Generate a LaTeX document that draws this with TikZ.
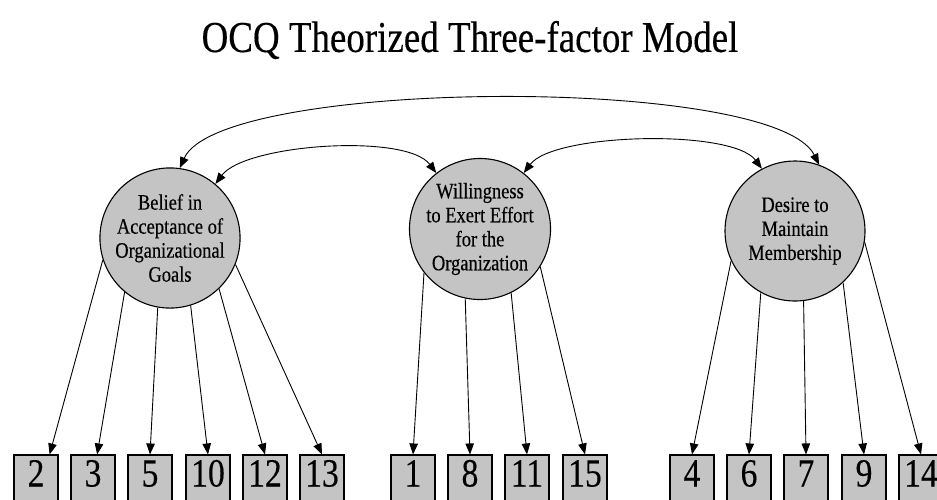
\documentclass[tikz,border=0pt]{standalone}
\usepackage{fontspec}
\setmainfont{Liberation Serif}[FakeStretch=0.84, FakeBold=0.3]
\usetikzlibrary{arrows.meta}

\tikzset{
  factor/.style={circle, draw, line width=1.1pt, fill=black!23, minimum size=140pt, inner sep=0pt, align=center, font=\fontsize{22}{24}\selectfont},
  item/.style={rectangle, draw, line width=1.1pt, fill=black!23, minimum width=44pt, minimum height=46pt, inner sep=0pt, text height=27pt, text depth=10pt, font=\fontsize{40}{40}\selectfont},
  load/.style={-{Triangle[length=11pt,width=8.5pt]}, line width=0.9pt},
  corr/.style={{Triangle[length=11pt,width=8.5pt]}-{Triangle[length=11pt,width=8.5pt]}, line width=0.9pt}
}

\begin{document}
\begin{tikzpicture}[x=1pt,y=-1pt]
    \useasboundingbox (0,0) rectangle (937,499);
    \clip (0,0) rectangle (937,499);

    % title
    \node[font=\fontsize{44}{46}\selectfont] (title) at (470,40) {OCQ Theorized Three-factor Model};

    % factors
    \node[factor] (goals) at (170,238) {Belief in\\Acceptance of\\Organizational\\Goals};
    \node[factor, minimum size=136pt] (effort) at (480,229) {Willingness\\to Exert Effort\\for the\\Organization};
    \node[factor] (member) at (795,231) {Desire to\\Maintain\\Membership};

    % items
    \foreach \n/\x in {2/36,3/93,5/150,10/208,12/265,13/322,1/413,8/470,11/527,15/585,4/692,6/749,7/806,9/864,14/921}
        \node[item] (q\n) at (\x,478) {\n};

    % loadings
    \foreach \a/\t in {198/q2.60,230/q3.80,260/q5.north,287/q10.north,314/q12.north,338/q13.north}
        \draw[load] (goals.\a) -- (\t);
    \foreach \a/\t in {218/q1.north,258/q8.north,296/q11.north,328/q15.north}
        \draw[load] (effort.\a) -- (\t);
    \foreach \a/\t in {205/q4.north,241/q6.north,277/q7.north,313/q9.north,351/q14.north}
        \draw[load] (member.\a) -- (\t);

    % correlations
    \draw[corr] (goals.82) .. controls +(40,-90) and +(-45,-90) .. (member.70);
    \draw[corr] (goals.50) .. controls +(30,-40) and +(-30,-40) .. (effort.128);
    \draw[corr] (effort.52) .. controls +(30,-40) and +(-30,-40) .. (member.118);
\end{tikzpicture}
\end{document}
